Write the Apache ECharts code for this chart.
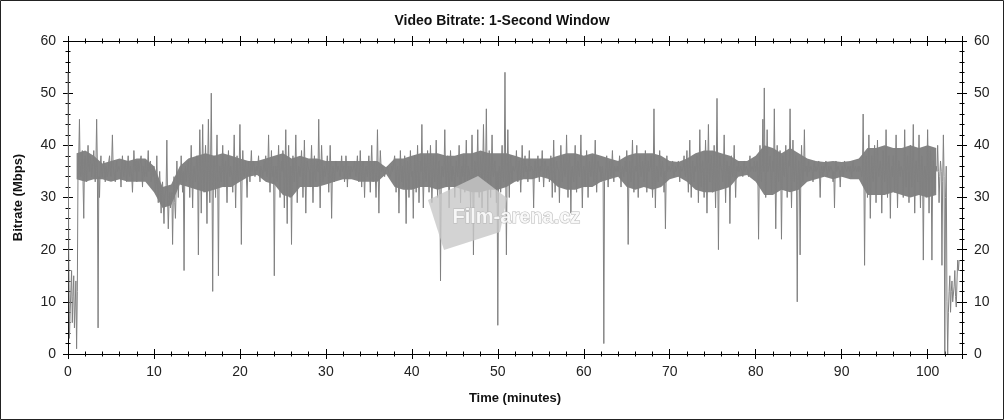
<!DOCTYPE html>
<html><head><meta charset="utf-8">
<script src="https://cdn.jsdelivr.net/npm/echarts@6/dist/echarts.min.js"></script>
<style>html,body{margin:0;padding:0;background:#fff}#c{width:1004px;height:420px}</style>
</head><body><div id="c"></div>
<script>
const chartTitle = 'Video Bitrate: 1-Second Window';
const xAxisName = 'Time (minutes)';
const yAxisName = 'Bitrate (Mbps)';
const watermark = 'Film-arena.cz';
const sampleStepMinutes = 1 / 12;   // one sample every 5 s
const xMax = 104;
const yMax = 60;

// Mbps (12 samples per minute, one row = one minute)
const bitrateMin00to19 = [
  54,20,3,8,12,16,6,11,15,5,9,14,
  1,12,36,38,45,35,34,37,39,33,26,37,
  38,35,33,37,40,36,35,38,37,34,34,37,
  39,36,33,37,45,36,5,34,30,36,38,35,
  34,36,37,35,33,36,36,34,35,37,38,35,
  34,37,42,36,36,34,33,36,37,35,35,36,
  36,35,32,36,38,35,34,36,37,35,33,36,
  38,35,34,36,36,34,31,35,39,36,35,37,
  33,36,37,35,35,37,38,35,32,36,36,34,
  37,35,34,36,39,35,35,37,33,35,36,34,
  36,34,31,33,38,32,29,33,35,31,27,32,
  33,29,25,30,30,32,41,30,24,29,31,28,
  28,31,21,30,34,29,26,32,37,33,30,34,
  35,33,38,34,31,35,16,34,36,33,33,36,
  37,34,30,35,40,34,28,35,36,34,33,36,
  38,35,19,35,43,36,27,35,44,34,31,36,
  40,34,25,36,45,35,29,36,50,34,12,35,
  38,35,30,36,42,34,15,35,36,34,33,36,
  40,35,32,36,37,34,29,35,39,35,34,36,
  36,34,31,36,42,35,28,35,38,34,33,36
];
const bitrateMin20to39 = [
  44,35,21,34,39,35,34,36,37,34,30,35,
  37,35,33,36,39,35,35,37,36,34,34,36,
  35,36,38,35,33,36,36,35,34,36,37,35,
  38,35,34,36,42,35,31,35,39,34,35,36,
  15,34,36,35,33,36,40,35,30,35,37,35,
  39,35,28,36,43,34,25,35,40,34,30,36,
  21,34,38,35,33,36,42,35,29,34,36,35,
  34,36,39,35,30,35,41,34,27,35,37,36,
  36,35,32,36,40,35,29,35,38,34,33,36,
  37,35,45,35,28,35,40,36,33,35,36,34,
  34,36,38,35,31,35,40,35,26,34,36,35,
  33,35,37,36,35,36,36,35,34,36,38,35,
  35,36,33,35,38,36,32,35,36,35,34,36,
  36,35,35,36,37,35,34,36,38,35,33,35,
  39,35,32,36,37,35,30,35,36,35,34,36,
  38,35,31,36,40,35,33,36,37,34,30,35,
  43,35,27,35,39,36,35,36,36,35,34,35,
  35,35,36,35,35,35,34,35,36,35,35,35,
  38,35,31,35,36,35,27,34,39,35,33,36,
  32,35,38,35,25,34,37,35,30,35,39,35
];
const bitrateMin40to59 = [
  34,35,26,34,38,35,31,35,40,35,29,34,
  37,35,44,35,28,34,38,35,33,36,39,35,
  31,35,40,35,29,34,38,35,33,36,41,35,
  30,35,37,34,14,33,36,35,34,36,43,35,
  32,35,38,35,28,34,39,35,33,36,36,34,
  30,35,37,35,34,36,40,35,29,35,36,34,
  38,35,31,36,41,35,33,36,36,34,28,35,
  42,35,19,34,37,35,33,36,43,34,30,35,
  38,35,28,36,44,35,32,36,47,34,27,35,
  39,35,30,36,42,35,34,36,37,34,29,35,
  5.5,34,36,35,31,36,40,35,33,36,54,35,
  19,35,43,35,30,36,38,35,33,36,36,35,
  35,36,39,35,33,36,37,35,31,35,40,36,
  34,36,38,35,36,35,33,36,39,35,35,36,
  36,35,28,35,37,35,34,36,38,35,33,36,
  35,36,39,35,32,35,37,36,34,35,36,35,
  33,35,38,36,30,35,41,35,31,35,37,36,
  36,35,29,35,40,36,33,35,38,35,34,36,
  42,35,30,36,38,35,27,35,36,34,33,36,
  40,35,31,36,37,35,34,36,42,35,28,35
];
const bitrateMin60to79 = [
  36,35,32,36,39,35,30,35,37,35,34,36,
  38,35,33,36,41,35,31,35,37,36,35,36,
  33,35,36,34,2,33,34,36,38,35,32,35,
  37,35,34,36,39,35,33,36,36,35,35,36,
  35,36,38,35,32,35,36,35,34,36,37,35,
  39,35,21,34,37,35,33,36,41,35,31,35,
  36,35,40,35,30,35,38,36,34,35,37,36,
  33,35,39,36,31,35,37,35,35,36,38,35,
  30,35,47,35,28,35,36,35,33,36,39,35,
  34,36,37,35,31,35,24,34,38,35,35,36,
  36,35,35,36,37,35,34,35,36,35,35,36,
  37,35,33,36,36,35,35,36,38,35,34,36,
  39,35,31,36,41,35,30,35,37,35,33,36,
  35,36,38,35,29,35,43,35,32,36,37,35,
  30,35,41,35,27,35,44,35,33,36,38,35,
  31,35,40,35,28,36,49,35,20,35,38,36,
  36,35,33,36,42,35,29,35,37,35,32,36,
  25,35,38,35,34,36,40,35,30,35,36,35,
  37,35,35,36,36,35,34,36,37,35,35,36,
  36,35,34,36,38,35,35,36,36,35,37,36
];
const bitrateMin80to103 = [
  35,36,37,35,22,34,40,35,33,36,45,35,
  51,35,30,36,43,35,35,36,38,35,31,35,
  37,35,47,35,24,34,40,35,33,36,39,35,
  22,34,38,35,34,36,40,35,30,35,37,36,
  47,35,28,35,41,35,33,36,38,34,10,34,
  37,35,19,34,40,35,33,36,43,35,35,36,
  34,36,37,35,35,36,36,35,33,36,37,35,
  36,35,35,36,37,35,30,35,36,35,34,36,
  35,36,37,35,34,35,36,35,35,36,36,35,
  33,35,28,35,37,35,35,36,36,35,32,35,
  35,36,34,35,37,36,36,35,35,36,36,35,
  36,35,34,36,37,35,35,36,36,35,35,36,
  35,36,36,35,34,35,46,35,17,34,38,35,
  30,35,42,35,26,34,38,35,33,36,40,35,
  29,35,41,35,34,36,37,35,27,35,39,35,
  33,35,43,35,30,36,38,35,26,35,36,34,
  38,35,31,36,42,35,28,35,37,35,34,36,
  36,35,30,36,43,35,32,36,38,35,29,35,
  40,35,32,36,44,35,27,35,37,35,33,36,
  42,35,28,35,38,35,18,34,36,35,30,35,
  43,35,27,35,39,35,18,34,37,35,31,35,
  36,35,40,35,29,34,37,35,17,33,42,34,
  0,30,36,10,0,8,12,15,8,12,14,10,
  10,13,16,11,9,14,18,16,18
];

// Dense core of the 1-second trace, per whole minute (index = minute): lower and upper edge in Mbps
const coreLow = [
  null,33.5,33,33.5,33.5,33,33.5,33,33,33,
  31,28,28.5,32.5,32,31.5,31,31.5,32,32,
  33,34,34.3,33,32.5,30.5,30,32,32,32,
  32.5,33,33.5,33.5,33,33,33,34.5,32,31.5,
  31.5,32,32,31.5,32,32,31.5,31,31,31.5,
  31.5,32,33,33.5,33.5,34,33.5,32,31.5,31.5,
  32,32,33,33.5,34,32,31.5,32,31.5,32,
  33.5,34,33,31.5,31,31,31.5,32,34,34.3,
  33,30.5,30.5,31.5,31,31.5,33,33.5,34,33.5,
  34,33.5,33.5,30.5,30.5,30.5,31,30.5,30,30.5,
  30,30.5,null,null
];
const coreHigh = [
  null,38.5,39,38,36.5,37,37.5,37,37.5,37.5,
  36,32,32.5,36,37.5,38,38.5,38,38.5,38,
  37.5,37,37,37.5,38,38.5,37.5,38,37.5,37.5,
  37,37,37,37,37,37,37,35.8,37.5,37.5,
  38,38.5,38.5,38.5,38,38,38.5,38.5,39,38.5,
  38.5,38.5,38,37.5,37.5,37.5,37.5,38,38.5,38.5,
  38,38.5,38,37.5,37,38,38.5,38.5,38.5,38,
  37,36.8,37.5,38.5,39,39,38.5,38,37,37,
  38,40,39.5,38.5,39.5,38.5,37.5,37,36.8,37,
  36.8,37,37.5,39.5,39.5,40,39.5,39.5,40,39.5,
  40,39.5,null,null
];

const bitrate = [].concat(bitrateMin00to19, bitrateMin20to39, bitrateMin40to59, bitrateMin60to79, bitrateMin80to103);
const points = bitrate.map((v, i) => [i * sampleStepMinutes, v]);
const coreTop = [], coreBottom = [];
coreLow.forEach((lo, m) => {
  if (lo == null || coreHigh[m] == null) return;
  coreTop.push([m, coreHigh[m]]);
  coreBottom.push([m, lo]);
});

const FONT = '"Liberation Sans", Arial, sans-serif';
const axisColor = '#000';

function makeX(position, inside, primary) {
  return {
    type: 'value', position, min: 0, max: xMax, interval: 10,
    name: primary ? xAxisName : '', nameLocation: 'middle', nameGap: 38,
    nameTextStyle: { fontFamily: FONT, fontSize: 13, fontWeight: 'bold', color: '#111' },
    axisLine: { show: true, onZero: false, lineStyle: { color: axisColor, width: 1 } },
    axisTick: { show: true, inside, length: 5, lineStyle: { color: axisColor } },
    minorTick: { show: true, splitNumber: 5, length: 2.5, lineStyle: { color: axisColor } },
    splitLine: { show: false },
    axisLabel: { show: primary, margin: 11, fontFamily: FONT, fontSize: 14, color: '#222', showMaxLabel: false }
  };
}
function makeY(position, inside, labels, primary) {
  return {
    type: 'value', position, min: 0, max: yMax, interval: 10,
    name: primary ? yAxisName : '', nameLocation: 'middle', nameGap: 43, nameRotate: 90,
    nameTextStyle: { fontFamily: FONT, fontSize: 13, fontWeight: 'bold', color: '#111' },
    axisLine: { show: true, onZero: false, lineStyle: { color: axisColor, width: 1 } },
    axisTick: { show: true, inside, length: 5, lineStyle: { color: axisColor } },
    minorTick: { show: true, splitNumber: 5, length: 2.5, lineStyle: { color: axisColor } },
    splitLine: { show: false },
    axisLabel: { show: labels, margin: 12, fontFamily: FONT, fontSize: 14, color: '#222' }
  };
}

const chart = echarts.init(document.getElementById('c'), null, { renderer: 'canvas' });
chart.setOption({
  backgroundColor: '#fff',
  animation: false,
  title: {
    text: chartTitle, left: 'center', top: 9,
    textStyle: { fontFamily: FONT, fontSize: 14, fontWeight: 'bold', color: '#111' }
  },
  grid: { left: 68, right: 42, top: 41, bottom: 66, containLabel: false },
  xAxis: [
    makeX('bottom', false, true),
    makeX('bottom', true, false),
    makeX('top', false, false),
    makeX('top', true, false)
  ],
  yAxis: [
    makeY('left', false, true, true),
    makeY('left', true, false, false),
    makeY('right', false, true, false),
    makeY('right', true, false, false)
  ],
  graphic: [
    { type: 'rect', shape: { x: 0.5, y: 0.5, width: 1003, height: 419 }, style: { fill: 'none', stroke: '#222', lineWidth: 1 }, z: 200 },
    { type: 'polygon', shape: { points: [[428,200],[478,176],[507,198],[500,232],[444,250]] }, style: { fill: 'rgba(200,200,200,0.8)' }, z: 150 },
    { type: 'text', left: 452, top: 207, style: { text: watermark, fontFamily: FONT, fontSize: 20, fontWeight: 'bold', fill: 'rgba(250,250,250,0.92)', stroke: 'rgba(180,180,180,0.95)', lineWidth: 1 }, z: 151 }
  ],
  series: [
    {
      type: 'custom', xAxisIndex: 0, yAxisIndex: 0, data: [[0, 0]], silent: true, z: 1,
      renderItem: function (params, api) {
        const pts = coreTop.map(p => api.coord(p))
          .concat(coreBottom.slice().reverse().map(p => api.coord(p)));
        return { type: 'polygon', shape: { points: pts }, style: { fill: '#848484' } };
      }
    },
    {
      type: 'line', xAxisIndex: 0, yAxisIndex: 0, data: points,
      showSymbol: false, symbol: 'none', sampling: null,
      lineStyle: { color: '#808080', width: 1 },
      z: 2
    }
  ]
});
</script>
</body></html>
